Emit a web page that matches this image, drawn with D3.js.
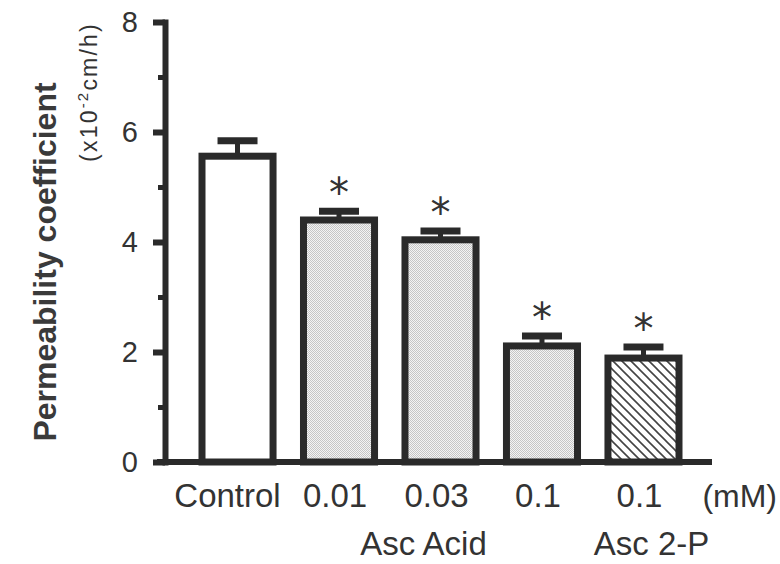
<!DOCTYPE html>
<html>
<head>
<meta charset="utf-8">
<script src="https://cdn.jsdelivr.net/npm/d3@7"></script>
<style>
  body { margin: 0; background: #fff; }
  svg { display: block; font-family: "Liberation Sans", Arial, sans-serif; }
</style>
</head>
<body>
<svg width="780" height="564"></svg>
<script>
// data
const doses = ["Control", "0.01", "0.03", "0.1", "0.1"];
const treatments = ["Control", "Asc Acid", "Asc Acid", "Asc Acid", "Asc 2-P"];
const means = [5.56, 4.40, 4.04, 2.11, 1.89];
const sems = [0.28, 0.16, 0.16, 0.18, 0.20];
const significant = [false, true, true, true, true];
const yTicks = [0, 1, 2, 3, 4, 5, 6, 7, 8];
const groups = ["Asc Acid", "Asc 2-P"];

const ink = "#2a2a2a";
const textInk = "#333";

const svg = d3.select("svg");
svg.append("rect").attr("width", 780).attr("height", 564).attr("fill", "#fff");

// fill patterns
const defs = svg.append("defs");
const dots = defs.append("pattern")
  .attr("id", "stipple")
  .attr("width", 2).attr("height", 2)
  .attr("patternUnits", "userSpaceOnUse");
dots.append("rect").attr("width", 2).attr("height", 2).attr("fill", "#f4f4f4");
dots.append("rect").attr("width", 1).attr("height", 1).attr("fill", "#c6c6c6");
dots.append("rect").attr("x", 1).attr("y", 1).attr("width", 1).attr("height", 1).attr("fill", "#c6c6c6");

const hatch = defs.append("pattern")
  .attr("id", "hatch")
  .attr("width", 9).attr("height", 9)
  .attr("patternUnits", "userSpaceOnUse");
hatch.append("rect").attr("width", 9).attr("height", 9).attr("fill", "#fff");
hatch.append("path")
  .attr("d", "M-2,-2L11,11M-2,7L2,11M7,-2L11,2")
  .attr("stroke", "#444")
  .attr("stroke-width", 1.6);

const fillFor = { "Control": "#fff", "Asc Acid": "url(#stipple)", "Asc 2-P": "url(#hatch)" };

// scales
const idx = d3.range(doses.length);
const x = d3.scaleBand().domain(idx).range([202, 679]).paddingInner(0.3);
const y = d3.scaleLinear().domain([0, 8]).range([462, 22]);
const cx = i => x(i) + x.bandwidth() / 2;

// y axis
const yAxis = svg.append("g")
  .attr("transform", "translate(165,0)")
  .call(d3.axisLeft(y)
    .tickValues(yTicks)
    .tickSize(12)
    .tickSizeOuter(0)
    .tickPadding(15)
    .tickFormat(d => d % 2 ? "" : d));
yAxis.select(".domain")
  .attr("stroke", ink)
  .attr("stroke-width", 6)
  .attr("stroke-linecap", "square");
yAxis.selectAll(".tick line")
  .attr("stroke", ink)
  .attr("stroke-width", d => d % 2 ? 5 : 6)
  .attr("x2", d => d % 2 ? -7 : -12);
yAxis.selectAll(".tick text")
  .attr("fill", textInk)
  .attr("font-size", 29)
  .attr("font-family", "Liberation Sans, Arial, sans-serif");

// bars
const bars = svg.append("g");
bars.selectAll("rect")
  .data(idx)
  .join("rect")
  .attr("x", i => x(i))
  .attr("width", x.bandwidth())
  .attr("y", i => y(means[i]))
  .attr("height", i => y(0) - y(means[i]))
  .attr("fill", i => fillFor[treatments[i]])
  .attr("stroke", ink)
  .attr("stroke-width", 7);

// error bars (upper only)
const err = svg.append("g").attr("stroke", ink);
err.selectAll("line.stem")
  .data(idx)
  .join("line")
  .attr("class", "stem")
  .attr("x1", cx).attr("x2", cx)
  .attr("y1", i => y(means[i]))
  .attr("y2", i => y(means[i] + sems[i]))
  .attr("stroke-width", 5);
err.selectAll("line.cap")
  .data(idx)
  .join("line")
  .attr("class", "cap")
  .attr("x1", i => cx(i) - 20).attr("x2", i => cx(i) + 20)
  .attr("y1", i => y(means[i] + sems[i]))
  .attr("y2", i => y(means[i] + sems[i]))
  .attr("stroke-width", 7);

// significance stars
svg.append("g").selectAll("text")
  .data(idx.filter(i => significant[i]))
  .join("text")
  .attr("x", cx)
  .attr("y", i => y(means[i] + sems[i]) - 4)
  .attr("text-anchor", "middle")
  .attr("font-family", "DejaVu Sans, sans-serif")
  .attr("font-size", 40)
  .attr("fill", textInk)
  .text("*");

// x axis baseline
svg.append("line")
  .attr("x1", 157).attr("x2", x.range()[1] + 33)
  .attr("y1", y(0)).attr("y2", y(0))
  .attr("stroke", ink)
  .attr("stroke-width", 6);

// dose labels
svg.append("g").selectAll("text")
  .data(idx)
  .join("text")
  .attr("x", i => cx(i) - (i === 0 ? 10 : 4))
  .attr("y", 507)
  .attr("text-anchor", "middle")
  .attr("font-size", 33)
  .attr("fill", textInk)
  .text(i => doses[i]);

svg.append("text")
  .attr("x", 777).attr("y", 507)
  .attr("text-anchor", "end")
  .attr("font-size", 32)
  .attr("fill", textInk)
  .text("(mM)");

// group labels under the doses
const groupShift = { "Asc Acid": -17, "Asc 2-P": 8 };
svg.append("g").selectAll("text")
  .data(groups)
  .join("text")
  .attr("x", g => d3.mean(idx.filter(i => treatments[i] === g), cx) + groupShift[g])
  .attr("y", 555)
  .attr("text-anchor", "middle")
  .attr("font-size", 33)
  .attr("fill", textInk)
  .text(g => g);

// y axis title
svg.append("text")
  .attr("transform", "translate(56,262) rotate(-90)")
  .attr("text-anchor", "middle")
  .attr("font-size", 32)
  .attr("font-weight", "bold")
  .attr("fill", "#3a3a3a")
  .text("Permeability coefficient");

const unit = svg.append("text")
  .attr("transform", "translate(97,92) rotate(-90)")
  .attr("text-anchor", "middle")
  .attr("font-size", 23)
  .attr("letter-spacing", 2.2)
  .attr("fill", textInk);
unit.append("tspan").text("(x10");
unit.append("tspan").attr("font-size", 15).attr("dy", -9).text("-2");
unit.append("tspan").attr("dy", 9).text("cm/h)");
</script>
</body>
</html>
